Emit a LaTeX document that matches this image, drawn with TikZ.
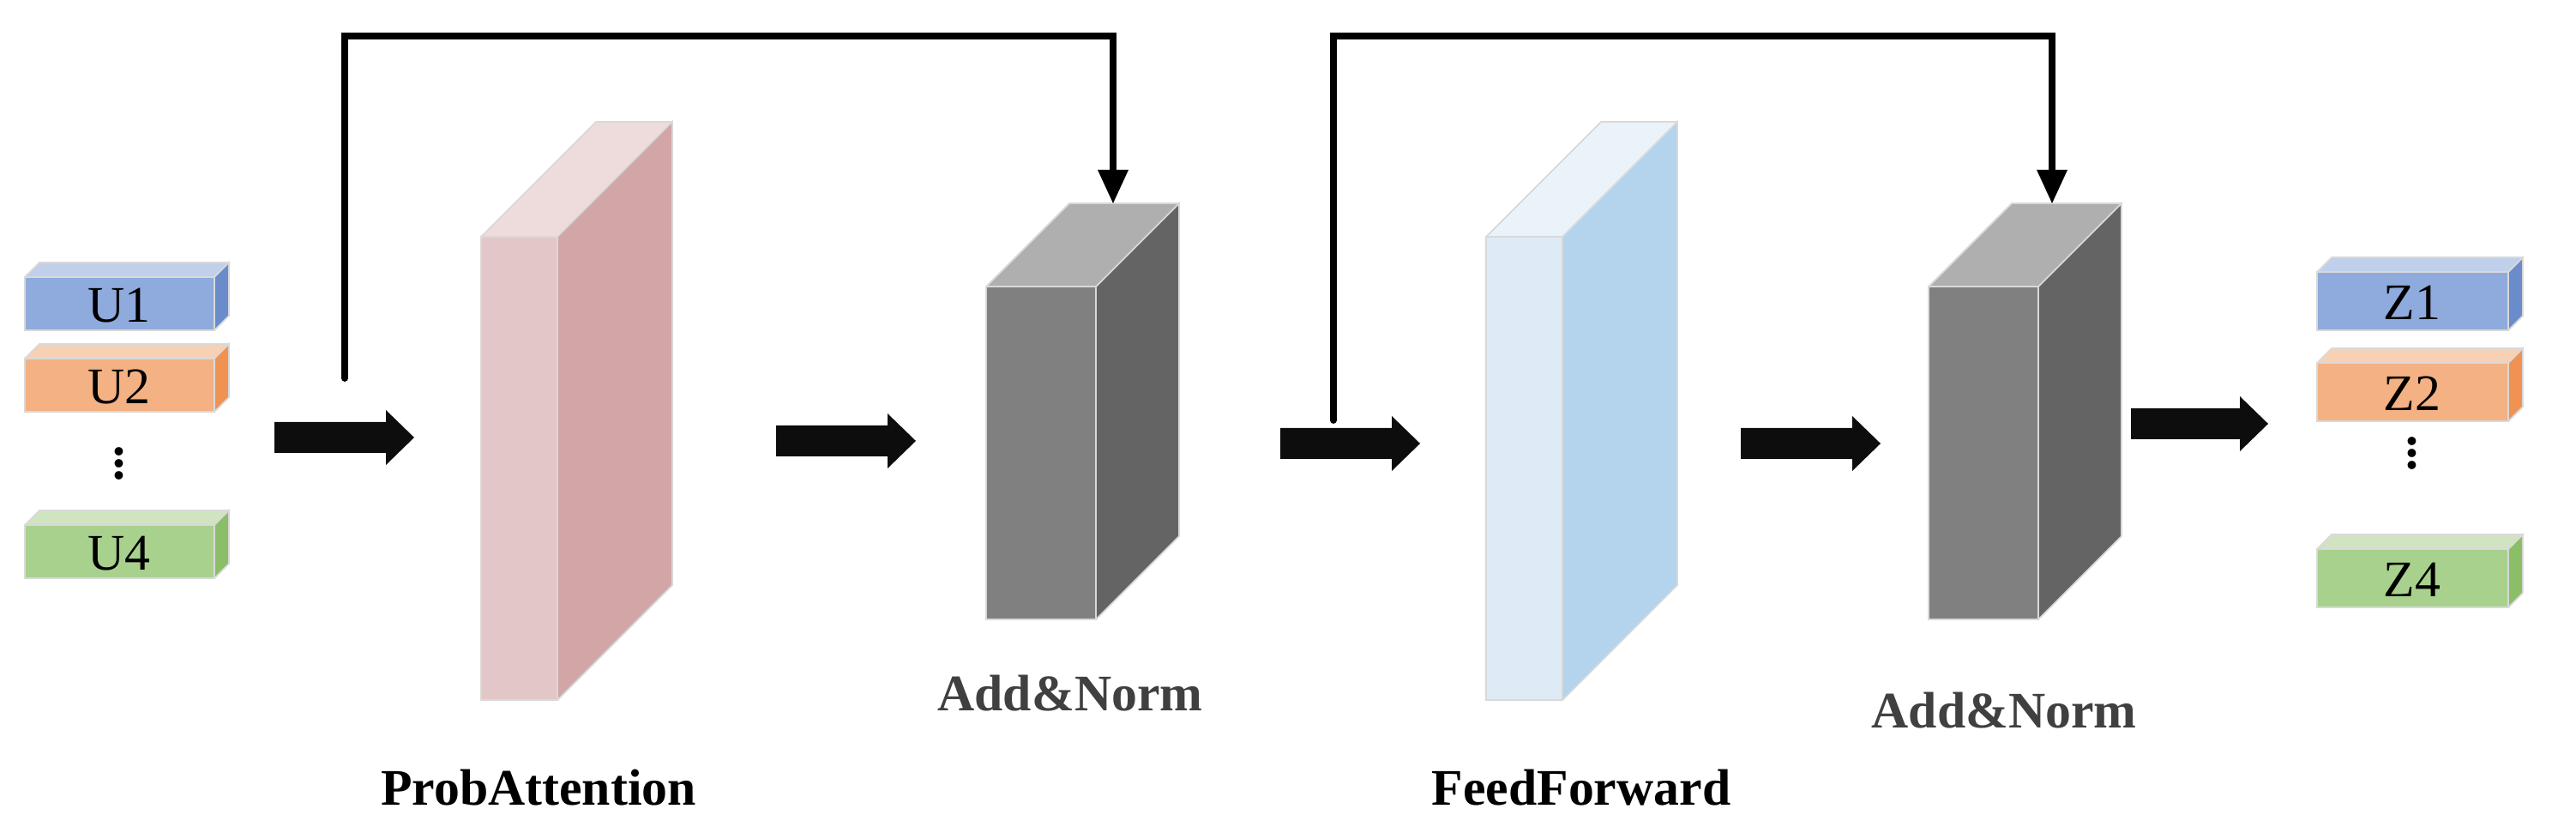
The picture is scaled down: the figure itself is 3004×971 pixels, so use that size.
\documentclass[tikz,border=0pt]{standalone}
\usepackage{fontspec}
\setmainfont{Liberation Serif}
\begin{document}
\newcommand{\myslab}[8]{% x y w h d front side top
  \fill[#8] (#1,#2) -- ++(#5,-#5) -- ++(#3,0) -- ++(-#5,#5) -- cycle;
  \fill[#7] (#1+#3,#2) -- ++(#5,-#5) -- ++(0,#4) -- ++(-#5,#5) -- cycle;
  \fill[#6] (#1,#2) rectangle ++(#3,#4);
  \draw[white!85!black,line width=0.5pt] (#1,#2) rectangle ++(#3,#4) (#1+#3,#2) -- ++(#5,-#5) -- ++(0,#4) -- ++(-#5,#5) (#1,#2) -- ++(#5,-#5) -- ++(#3,0);
}
\newcommand{\blockarrow}[3]{% x1 x2 y
  \fill[black!95] (#1,#3-18) -- (#2-33,#3-18) -- (#2-33,#3-32) -- (#2,#3) -- (#2-33,#3+32) -- (#2-33,#3+18) -- (#1,#3+18) -- cycle;
}
\definecolor{bF}{HTML}{8FAADC}\definecolor{bS}{HTML}{6A8CCB}\definecolor{bT}{HTML}{C0D0EA}
\definecolor{oF}{HTML}{F4B183}\definecolor{oS}{HTML}{F09352}\definecolor{oT}{HTML}{F8D0B4}
\definecolor{gF}{HTML}{A9D18E}\definecolor{gS}{HTML}{8BBF67}\definecolor{gT}{HTML}{D0E4C1}
\definecolor{pF}{HTML}{E3C6C7}\definecolor{pS}{HTML}{D2A5A6}\definecolor{pT}{HTML}{EEDCDC}
\definecolor{kF}{HTML}{808080}\definecolor{kS}{HTML}{646464}\definecolor{kT}{HTML}{AFAFAF}
\definecolor{lF}{HTML}{DEEBF6}\definecolor{lS}{HTML}{B4D3EC}\definecolor{lT}{HTML}{EBF3FA}
\begin{tikzpicture}[x=0.01cm,y=-0.01cm,
  lab/.style={font=\fontsize{17}{20}\selectfont},
  title/.style={font=\fontsize{17}{20}\selectfont\bfseries},
  skip/.style={line width=2.2pt,line cap=round,line join=miter}]
\useasboundingbox (0,0) rectangle (3004,971);
% input boxes
\foreach \y/\c/\t [count=\i] in {323/b/U1,418/o/U2,612/g/U4}{
  \myslab{29}{\y}{221}{62}{17}{\c F}{\c S}{\c T}
  \node[lab] (u\i) at (139,\y+33) {\t};
}
\node[font=\fontsize{17}{20}\selectfont\bfseries] (ud) at (139,530) {$\vdots$};
\foreach \y/\c/\t [count=\i] in {317/b/Z1,423/o/Z2,640/g/Z4}{
  \myslab{2702}{\y}{223}{68}{17}{\c F}{\c S}{\c T}
  \node[lab] (z\i) at (2813,\y+36) {\t};
}
\node[font=\fontsize{17}{20}\selectfont\bfseries] (zd) at (2813,518) {$\vdots$};
% slabs
\myslab{561}{276}{89}{540}{134}{pF}{pS}{pT}
\myslab{1150}{334}{128}{388}{97}{kF}{kS}{kT}
\myslab{1733}{276}{89}{540}{134}{lF}{lS}{lT}
\myslab{2249}{334}{128}{388}{97}{kF}{kS}{kT}
% labels
\node[title] (pa) at (628,918) {ProbAttention};
\node[title,text=black!75] (an1) at (1248,808) {Add\&Norm};
\node[title] (ff) at (1844,918) {FeedForward};
\node[title,text=black!75] (an2) at (2337,828) {Add\&Norm};
% block arrows
\blockarrow{320}{483}{510}
\blockarrow{905}{1068}{514}
\blockarrow{1493}{1656}{517}
\blockarrow{2030}{2193}{517}
\blockarrow{2485}{2645}{494}
% skip connections
\coordinate (s1) at (402,441); \coordinate (t1) at (1298,237);
\coordinate (s2) at (1555,490); \coordinate (t2) at (2393,237);
\draw[skip] (s1) -- (402,42) -| (1298,200);
\fill (1280,198) -- (1316,198) -- (t1) -- cycle;
\draw[skip] (s2) -- (1555,42) -| (2393,200);
\fill (2375,198) -- (2411,198) -- (t2) -- cycle;
\end{tikzpicture}
\end{document}
